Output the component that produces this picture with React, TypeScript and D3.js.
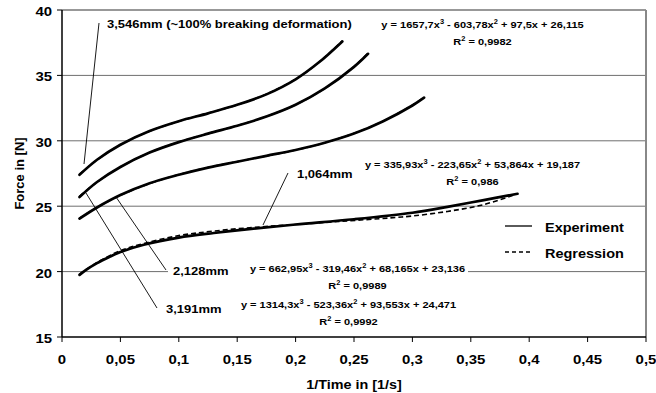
import React from "react";
import * as d3 from "d3";

// ---- data ----
const xTicks = [0, 0.05, 0.1, 0.15, 0.2, 0.25, 0.3, 0.35, 0.4, 0.45, 0.5];
const yTicks = [15, 20, 25, 30, 35, 40];

// 3,546mm
const exp3546: [number, number][] = [
  [0.015, 27.4], [0.03, 28.55], [0.05, 29.7], [0.075, 30.75], [0.1, 31.5], [0.125, 32.1],
  [0.15, 32.75], [0.175, 33.55], [0.2, 34.7], [0.22, 36.0], [0.24, 37.6],
];
const reg3546: [number, number][] = [
  [0.015, 27.45], [0.03, 28.54], [0.05, 29.69], [0.075, 30.73], [0.1, 31.49], [0.125, 32.11],
  [0.15, 32.75], [0.175, 33.57], [0.2, 34.72], [0.22, 36.0], [0.24, 37.65],
];
// 3,191mm
const exp3191: [number, number][] = [
  [0.015, 25.7], [0.03, 26.85], [0.05, 28.0], [0.075, 29.1], [0.1, 29.9], [0.125, 30.55],
  [0.15, 31.15], [0.175, 31.85], [0.2, 32.75], [0.225, 34.0], [0.25, 35.65], [0.262, 36.65],
];
const reg3191: [number, number][] = [
  [0.015, 25.76], [0.03, 26.84], [0.05, 28.0], [0.075, 29.1], [0.1, 29.91], [0.125, 30.55],
  [0.15, 31.16], [0.175, 31.86], [0.2, 32.76], [0.225, 34.0], [0.25, 35.68], [0.262, 36.69],
];
// 2,128mm
const exp2128: [number, number][] = [
  [0.015, 24.05], [0.03, 24.9], [0.05, 25.85], [0.075, 26.75], [0.1, 27.4], [0.125, 27.95],
  [0.15, 28.4], [0.175, 28.85], [0.2, 29.3], [0.225, 29.85], [0.25, 30.55], [0.275, 31.5],
  [0.3, 32.7], [0.31, 33.3],
];
const reg2128: [number, number][] = [
  [0.015, 24.09], [0.03, 24.91], [0.05, 25.83], [0.075, 26.73], [0.1, 27.42], [0.125, 27.96],
  [0.15, 28.41], [0.175, 28.84], [0.2, 29.29], [0.225, 29.85], [0.25, 30.57], [0.275, 31.51],
  [0.3, 32.73], [0.31, 33.32],
];
// 1,064mm
const exp1064: [number, number][] = [
  [0.015, 19.75], [0.02, 20.1], [0.03, 20.65], [0.04, 21.1], [0.05, 21.5], [0.07, 22.05],
  [0.1, 22.6], [0.13, 22.95], [0.16, 23.25], [0.2, 23.6], [0.25, 24.0], [0.3, 24.5],
  [0.33, 24.95], [0.36, 25.45], [0.39, 25.95],
];
const reg1064: [number, number][] = [
  [0.015, 19.8], [0.03, 20.7], [0.05, 21.6], [0.07, 22.15], [0.1, 22.75], [0.13, 23.1],
  [0.17, 23.42], [0.2, 23.6], [0.24, 23.85], [0.28, 24.1], [0.3, 24.25], [0.33, 24.6],
  [0.36, 25.1], [0.39, 25.95],
];

const experiments = [exp3546, exp3191, exp2128, exp1064];
const regressions = [reg3546, reg3191, reg2128, reg1064];

const W = 656;
const H = 393;
const left = 62;
const right = 646;
const top = 10;
const bottom = 337;

const FONT = "'Liberation Sans', Arial, sans-serif";
const SX = 1.15; // horizontal stretch of the reference's lettering

function T({
  x,
  y,
  size,
  anchor = "start",
  children,
}: {
  x: number;
  y: number;
  size: number;
  anchor?: string;
  children: React.ReactNode;
}) {
  return (
    <text
      transform={`translate(${x},${y}) scale(${SX},1)`}
      textAnchor={anchor as any}
      fontFamily={FONT}
      fontWeight="bold"
      fontSize={size}
      fill="#000"
    >
      {children}
    </text>
  );
}

function Eq({ x, y, a, b, c, d, r }: { x: number; y: number; a: string; b: string; c: string; d: string; r: string }) {
  const fs = 9.6;
  const ss = 6.5;
  return (
    <g>
      <T x={x} y={y} size={fs} anchor="middle">
        {`y = ${a}x`}
        <tspan fontSize={ss} dy={-4.5}>3</tspan>
        <tspan dy={4.5}>{` - ${b}x`}</tspan>
        <tspan fontSize={ss} dy={-4.5}>2</tspan>
        <tspan dy={4.5}>{` + ${c}x + ${d}`}</tspan>
      </T>
      <T x={x} y={y + 17} size={fs} anchor="middle">
        R<tspan fontSize={ss} dy={-4.5}>2</tspan>
        <tspan dy={4.5}>{` = ${r}`}</tspan>
      </T>
    </g>
  );
}

export default function App() {
  const x = d3.scaleLinear().domain([0, 0.5]).range([left, right]);
  const y = d3.scaleLinear().domain([15, 40]).range([bottom, top]);
  const line = d3
    .line<[number, number]>()
    .x((p) => x(p[0]))
    .y((p) => y(p[1]))
    .curve(d3.curveCatmullRom.alpha(0.5));

  return (
    <svg width={W} height={H} style={{ position: "absolute", left: 0, top: 0, background: "#fff" }}>
      {/* gridlines */}
      {yTicks
        .filter((t) => t > 15 && t < 40)
        .map((t) => (
          <line key={t} x1={left} x2={right} y1={y(t)} y2={y(t)} stroke="#6e6e6e" strokeWidth={1} />
        ))}
      {/* frame */}
      <line x1={left} x2={right} y1={top} y2={top} stroke="#333" strokeWidth={1.2} />
      <line x1={right} x2={right} y1={top} y2={bottom} stroke="#888" strokeWidth={2} />

      {/* label backgrounds */}
      <rect x={168} y={264} width={300} height={14} fill="#fff" />

      {/* regression (dashed) */}
      {regressions.map((s, i) => (
        <path key={"r" + i} d={line(s) || ""} fill="none" stroke="#000" strokeWidth={1.6} strokeDasharray="5,3" />
      ))}
      {/* experiments (solid) */}
      {experiments.map((s, i) => (
        <path key={"e" + i} d={line(s) || ""} fill="none" stroke="#000" strokeWidth={2.7} strokeLinecap="round" />
      ))}

      {/* annotation leader lines */}
      <g stroke="#000" strokeWidth={0.9}>
        <line x1={99} y1={23} x2={84} y2={164} />
        <line x1={116} y1={197} x2={166} y2={270} />
        <line x1={86} y1={193} x2={157} y2={308} />
        <line x1={288} y1={173} x2={263} y2={225} />
      </g>

      {/* axes */}
      <line x1={left} x2={left} y1={top} y2={bottom} stroke="#000" strokeWidth={1.5} />
      <line x1={left} x2={right} y1={bottom} y2={bottom} stroke="#000" strokeWidth={1.5} />
      {yTicks.map((t) => (
        <g key={"yt" + t}>
          <line x1={left - 5} x2={left} y1={y(t)} y2={y(t)} stroke="#000" strokeWidth={1} />
          <T x={left - 10} y={y(t) + 6} size={13} anchor="end">
            {t}
          </T>
        </g>
      ))}
      {xTicks.map((t) => (
        <g key={"xt" + t}>
          <line x1={x(t)} x2={x(t)} y1={bottom} y2={bottom + 5} stroke="#000" strokeWidth={1} />
          <T x={x(t)} y={364} size={13} anchor="middle">
            {String(t).replace(".", ",")}
          </T>
        </g>
      ))}
      <T x={354} y={389} size={12.5} anchor="middle">
        1/Time in [1/s]
      </T>
      <text
        transform={`translate(24,${(top + bottom) / 2}) rotate(-90)`}
        textAnchor="middle"
        fontFamily={FONT}
        fontWeight="bold"
        fontSize={13}
      >
        Force in [N]
      </text>

      {/* curve labels */}
      <T x={107} y={28} size={11.3}>3,546mm (~100% breaking deformation)</T>
      <T x={297} y={178} size={11.3}>1,064mm</T>
      <T x={173} y={275} size={11.3}>2,128mm</T>
      <T x={166} y={313} size={11.3}>3,191mm</T>

      {/* equations */}
      <Eq x={482.5} y={28} a="1657,7" b="603,78" c="97,5" d="26,115" r="0,9982" />
      <Eq x={472.5} y={168} a="335,93" b="223,65" c="53,864" d="19,187" r="0,986" />
      <Eq x={357.5} y={272} a="662,95" b="319,46" c="68,165" d="23,136" r="0,9989" />
      <Eq x={348.5} y={308} a="1314,3" b="523,36" c="93,553" d="24,471" r="0,9992" />

      {/* legend */}
      <line x1={505} x2={532} y1={226} y2={226} stroke="#000" strokeWidth={1.3} />
      <line x1={505} x2={532} y1={252} y2={252} stroke="#000" strokeWidth={1.3} strokeDasharray="4,3" />
      <T x={545} y={232} size={12.6}>Experiment</T>
      <T x={545} y={258} size={12.6}>Regression</T>
    </svg>
  );
}
